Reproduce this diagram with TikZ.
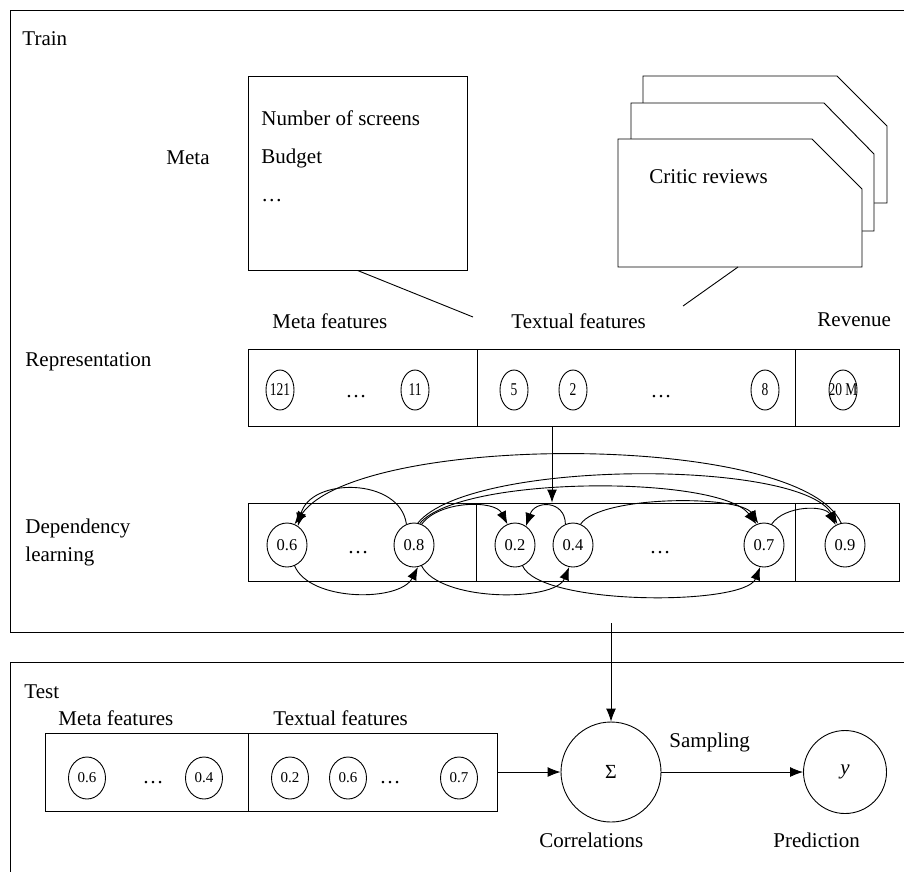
\documentclass[tikz,border=0pt]{standalone}
\usepackage{fontspec}
\setmainfont{Liberation Serif}
\usetikzlibrary{shapes.geometric,arrows.meta}
\newcommand{\mycond}[1]{\makebox[0pt]{\scalebox{0.75}[1]{#1}}}
\begin{document}
\begin{tikzpicture}[x=1pt,y=-1pt, line width=0.9pt,
  lbl/.style={inner sep=0pt, anchor=west, text height=14.7pt, text depth=4.2pt, font=\fontsize{21}{25}\selectfont},
  dnode/.style={draw, ellipse, minimum width=40pt, minimum height=44pt, inner sep=0pt, font=\fontsize{16.5}{16.5}\selectfont},
  rnode/.style={draw, ellipse, minimum width=28pt, minimum height=40pt, inner sep=0pt, font=\fontsize{18}{18}\selectfont},
  tnode/.style={draw, ellipse, minimum width=37pt, minimum height=42pt, inner sep=0pt, font=\fontsize{15}{15}\selectfont},
  dots/.style={inner sep=0pt, font=\fontsize{21}{21}\selectfont},
  arr/.style={-{Latex[length=13pt,width=10pt]}},
  boxframe/.style={draw, inner sep=0pt},
]
\useasboundingbox (0,0) rectangle (904,871);
\fill[white] (0,0) rectangle (904,871);

% outer frames
\draw (910,10) -- (10,10) -- (10,632) -- (910,632);
\draw (910,662) -- (10,662) -- (10,880);

% Train part
\node[lbl] (train) at (22,40) {Train};
\node[lbl] (meta) at (166,159) {Meta};
\node[boxframe, minimum width=219pt, minimum height=194pt] (mbox) at (357.5,173) {};
\node[lbl] (ns) at (261,120) {Number of screens};
\node[lbl] (bud) at (261,158) {Budget};
\node[dots, anchor=west] (mdots) at (261,201) {…};

% critic review cards
\filldraw[fill=white] (643,76) -- (837,76) -- (887,126) -- (887,203) -- (643,203) -- cycle;
\filldraw[fill=white] (631,103) -- (824,103) -- (874,154) -- (874,231) -- (631,231) -- cycle;
\filldraw[fill=white] (618,139) -- (812,139) -- (862,189) -- (862,267) -- (618,267) -- cycle;
\node[lbl] (crit) at (649,178) {Critic reviews};

\coordinate (mj) at (473,317);
\coordinate (cb) at (738,267);
\coordinate (cj) at (683,306);
\draw (mbox.south) -- (mj);
\draw (cb) -- (cj);

% representation
\node[lbl] (lmf) at (272,323) {Meta features};
\node[lbl] (ltf) at (511,323) {Textual features};
\node[lbl] (lrev) at (817,321) {Revenue};
\node[lbl] (lrep) at (25,361) {Representation};
\node[boxframe, minimum width=651pt, minimum height=77pt] (rbox) at (573.5,387.5) {};
\draw (477,349) -- (477,426);
\draw (795,349) -- (795,426);
\node[rnode] (r1) at (280,390) {\mycond{121}};
\node[rnode] (r2) at (415,390) {\mycond{11}};
\node[dots] (rd1) at (356,397) {…};
\node[rnode] (r3) at (514,390) {\mycond{5}};
\node[rnode] (r4) at (573,390) {\mycond{2}};
\node[dots] (rd2) at (661,397) {…};
\node[rnode] (r5) at (765,390) {\mycond{8}};
\node[rnode] (r6) at (843,390) {\mycond{20 M}};

% dependency learning
\node[lbl] (ldep) at (25,528) {Dependency};
\node[lbl] (llearn) at (25,556) {learning};
\node[boxframe, minimum width=651pt, minimum height=78pt] (dbox) at (573.5,542) {};
\draw (476,503) -- (476,581);
\draw (795,503) -- (795,581);
\node[dnode] (d1) at (287,545) {0.6};
\node[dots] (dd1) at (358,553) {…};
\node[dnode] (d2) at (414,545) {0.8};
\node[dnode] (d3) at (515,545) {0.2};
\node[dnode] (d4) at (573,545) {0.4};
\node[dots] (dd2) at (660,553) {…};
\node[dnode] (d5) at (764,545) {0.7};
\node[dnode] (d6) at (845,545) {0.9};

\coordinate (va) at (552,426);
\draw[arr] (va) -- (va |- dbox.north);

% top arcs
\draw[arr] (d6.100) .. controls (800,432) and (360,432) .. (d1.70);
\draw[arr] (d2.110) .. controls (400,477) and (310,477) .. (d1.60);
\draw[arr] (d2.70) .. controls (440,500) and (495,500) .. (d3.110);
\draw[arr] (d2.75) .. controls (460,475) and (720,475) .. (d5.110);
\draw[arr] (d2.80) .. controls (470,459) and (800,459) .. (d6.110);
\draw[arr] (d4.110) .. controls (565,500) and (535,500) .. (d3.60);
\draw[arr] (d4.70) .. controls (600,495) and (740,495) .. (d5.105);
\draw[arr] (d5.70) .. controls (785,505) and (825,505) .. (d6.115);
% bottom arcs
\draw[arr] (d1.-70) .. controls (310,602) and (400,602) .. (d2.-80);
\draw[arr] (d2.-70) .. controls (440,602) and (555,602) .. (d4.-100);
\draw[arr] (d3.-70) .. controls (540,606) and (745,606) .. (d5.-100);

% Test part
\node[lbl] (test) at (24,693) {Test};
\node[lbl] (tmf) at (58,720) {Meta features};
\node[lbl] (ttf) at (273,720) {Textual features};
\node[boxframe, minimum width=452pt, minimum height=78pt] (tbox) at (271,772) {};
\draw (248,733) -- (248,811);
\node[tnode] (t1) at (87,778) {0.6};
\node[dots] (td1) at (153,783) {…};
\node[tnode] (t2) at (204,778) {0.4};
\node[tnode] (t3) at (290,778) {0.2};
\node[tnode] (t4) at (348,778) {0.6};
\node[dots] (td2) at (390,783) {…};
\node[tnode] (t5) at (459,778) {0.7};

\node[draw, circle, minimum size=100pt, inner sep=0pt, font=\fontsize{20}{20}\selectfont] (sig) at (611,772) {Σ};
\node[draw, circle, minimum size=83pt, inner sep=0pt, font=\fontsize{21}{21}\selectfont] (pred) at (845,772) {\textit{y}};
\coordinate (vs) at (611,623);
\draw[arr] (vs) -- (sig.north);
\draw[arr] (tbox.east) -- (sig.west);
\draw[arr] (sig.east) -- (pred.west);
\node[lbl] (samp) at (669,742) {Sampling};
\node[lbl] (corr) at (539,842) {Correlations};
\node[lbl] (predl) at (773,842) {Prediction};
\end{tikzpicture}
\end{document}
